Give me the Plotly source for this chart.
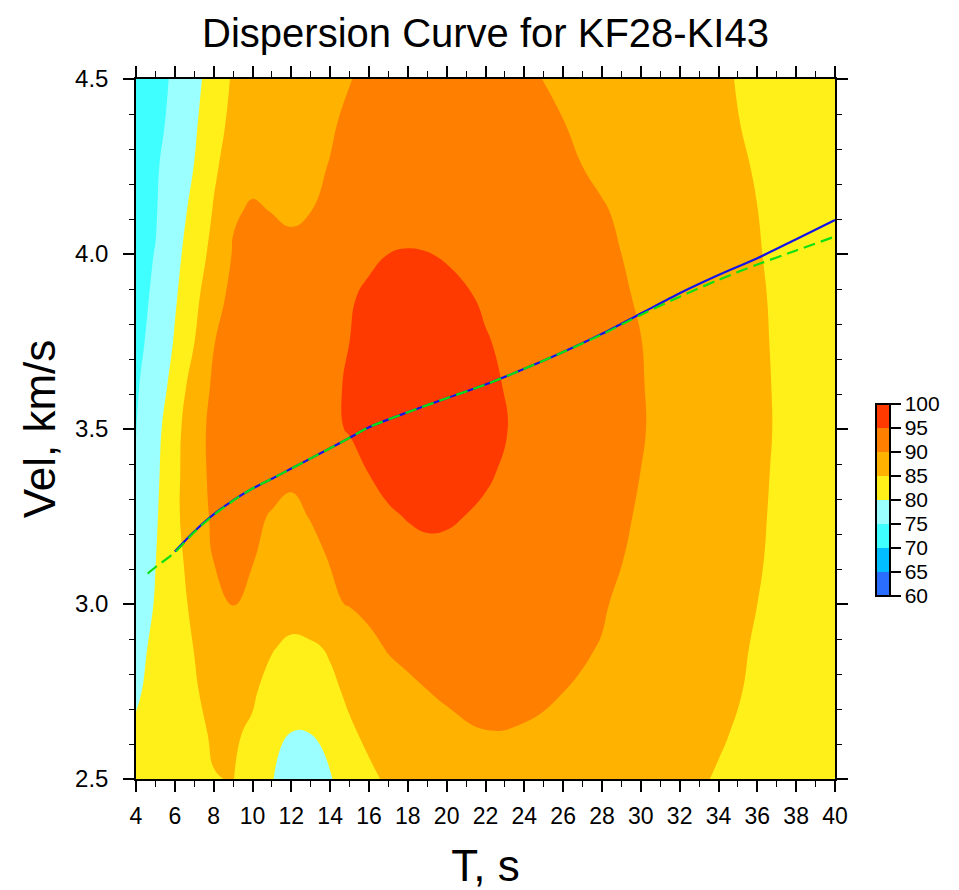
import plotly.graph_objects as go

# ---- data ----
periods = [4, 5, 6, 7, 8, 9, 10, 11, 12, 13, 14, 15, 16, 17, 18, 19, 20,
           22, 24, 26, 28, 30, 32, 34, 36, 38, 40]
velocities = [2.5, 2.625, 2.75, 2.875, 3.0, 3.125, 3.25, 3.375, 3.5,
              3.625, 3.75, 3.875, 4.0, 4.125, 4.25, 4.375, 4.5]

amp_2500 = [81.5, 82.5, 83.3, 84.1, 84.9, 85.1, 83.0, 80.2, 77.8, 77.6, 79.7, 82.3, 84.2, 85.6, 86.6, 87.4, 88.0, 88.6, 88.6, 88.2, 87.5, 86.6, 85.7, 84.8, 83.8, 83.0, 82.3]
amp_2625 = [80.6, 82.0, 83.2, 84.3, 85.3, 85.5, 84.3, 81.8, 79.8, 79.9, 82.3, 84.3, 85.8, 87.0, 87.9, 88.6, 89.2, 89.9, 89.8, 89.3, 88.6, 87.6, 86.4, 85.25, 84.3, 83.4, 82.6]
amp_2750 = [79.5, 81.2, 83.0, 84.5, 86.6, 87.0, 85.6, 83.3, 81.6, 82.0, 84.0, 85.8, 87.2, 88.3, 89.2, 89.95, 90.4, 90.7, 90.5, 90.02, 89.3, 88.3, 87.1, 85.8, 84.5, 83.6, 82.8]
amp_2875 = [78.6, 81.0, 83.0, 85.1, 87.5, 89.4, 88.0, 85.3, 84.0, 84.3, 85.5, 87.2, 89.0, 90.3, 91.0, 91.5, 91.8, 91.6, 91.0, 90.5, 89.9, 88.9, 87.7, 86.1, 84.7, 83.7, 82.9]
amp_3000 = [77.3, 80.3, 83.1, 86.0, 88.8, 90.1, 89.0, 87.8, 87.3, 88.3, 89.5, 90.2, 91.0, 91.7, 92.3, 92.7, 92.9, 92.6, 91.8, 91.0, 90.2, 89.1, 87.8, 86.3, 85.0, 83.9, 83.0]
amp_3125 = [76.5, 79.9, 83.5, 86.9, 90.05, 90.3, 90.1, 89.3, 88.9, 89.3, 90.1, 91.2, 92.2, 93.0, 93.6, 94.0, 94.1, 93.4, 92.4, 91.5, 90.6, 89.5, 88.0, 86.5, 85.2, 84.0, 83.1]
amp_3250 = [76.0, 79.4, 84.0, 87.8, 90.7, 90.5, 90.4, 89.85, 89.5, 90.1, 91.3, 92.5, 93.6, 94.5, 95.2, 95.6, 95.4, 94.5, 93.1, 92.0, 90.9, 89.75, 88.4, 86.7, 85.3, 84.1, 83.2]
amp_3375 = [75.4, 79.0, 83.6, 88.6, 90.8, 90.8, 91.0, 90.8, 90.4, 91.2, 92.5, 93.9, 95.05, 96.2, 96.9, 97.0, 96.7, 95.4, 93.9, 92.6, 91.3, 89.98, 88.5, 86.8, 85.4, 84.15, 83.2]
amp_3500 = [74.9, 78.5, 83.2, 88.6, 90.9, 91.05, 91.7, 92.4, 93.1, 93.8, 94.5, 95.2, 96.3, 97.2, 97.7, 97.8, 97.4, 95.8, 94.4, 92.9, 91.6, 90.2, 88.7, 86.9, 85.5, 84.2, 83.2]
amp_3625 = [74.5, 77.4, 81.65, 87.3, 90.6, 91.0, 91.7, 92.4, 93.1, 93.8, 94.5, 95.3, 96.5, 97.4, 97.8, 97.8, 97.4, 95.6, 94.2, 92.8, 91.5, 90.15, 88.6, 86.8, 85.45, 84.2, 83.2]
amp_3750 = [74.2, 76.0, 80.4, 84.9, 89.9, 90.9, 91.6, 92.2, 92.9, 93.6, 94.3, 95.0, 96.2, 97.0, 97.4, 97.3, 96.8, 95.2, 93.9, 92.6, 91.3, 90.05, 88.5, 86.7, 85.4, 84.1, 83.1]
amp_3875 = [73.8, 75.6, 79.5, 83.6, 88.6, 91.0, 91.3, 92.0, 92.6, 93.3, 94.0, 94.7, 95.6, 96.4, 96.8, 96.6, 96.0, 94.6, 93.4, 92.2, 91.0, 89.7, 88.3, 86.5, 85.3, 84.1, 83.0]
amp_4000 = [74.0, 75.1, 78.7, 82.4, 86.5, 90.3, 90.9, 91.3, 91.3, 92.5, 93.2, 93.8, 94.4, 95.0, 95.3, 95.1, 94.7, 93.6, 92.6, 91.6, 90.6, 89.4, 88.0, 86.3, 85.15, 84.0, 82.9]
amp_4125 = [73.5, 74.7, 77.8, 81.3, 85.3, 89.6, 90.35, 89.9, 89.2, 89.95, 90.6, 91.3, 91.9, 92.5, 93.0, 93.2, 93.2, 92.8, 92.0, 91.1, 90.2, 89.1, 87.9, 86.1, 85.02, 83.8, 82.7]
amp_4250 = [73.0, 74.5, 77.0, 80.1, 84.25, 87.2, 89.0, 88.8, 88.6, 89.5, 90.1, 90.9, 91.5, 92.0, 92.4, 92.6, 92.7, 92.4, 91.6, 90.5, 89.5, 88.5, 87.3, 85.9, 84.8, 83.6, 82.5]
amp_4375 = [72.5, 73.8, 76.25, 79.2, 83.6, 85.9, 87.0, 87.6, 88.2, 88.9, 89.7, 90.5, 91.1, 91.6, 92.0, 92.3, 92.4, 92.1, 91.2, 90.05, 89.0, 88.0, 87.0, 85.5, 84.6, 83.4, 82.3]
amp_4500 = [72.0, 73.7, 75.6, 78.4, 82.4, 85.5, 86.0, 86.8, 87.6, 88.4, 89.1, 89.9, 90.6, 91.2, 91.6, 91.9, 92.0, 91.6, 90.5, 89.4, 88.5, 87.5, 86.4, 85.4, 84.4, 83.2, 82.1]

amplitude = [amp_2500, amp_2625, amp_2750, amp_2875, amp_3000, amp_3125,
             amp_3250, amp_3375, amp_3500, amp_3625, amp_3750, amp_3875,
             amp_4000, amp_4125, amp_4250, amp_4375, amp_4500]

# measured dispersion curve (solid blue)
curve_T = [6, 7, 8, 9, 10, 11, 12, 13, 14, 15, 16, 18, 20, 22, 24, 26,
           28, 30, 32, 34, 36, 38, 40]
curve_V = [3.15, 3.207, 3.256, 3.296, 3.33, 3.358, 3.387, 3.416, 3.445,
           3.475, 3.505, 3.548, 3.588, 3.627, 3.672, 3.72, 3.772, 3.83,
           3.888, 3.94, 3.988, 4.042, 4.097]
# reference curve (dashed green)
ref_T = [4.6, 5, 6, 7, 8, 9, 10, 11, 12, 13, 14, 15, 16, 18, 20, 22, 24,
         26, 28, 30, 32, 34, 36, 38, 40]
ref_V = [3.087, 3.105, 3.148, 3.205, 3.254, 3.295, 3.33, 3.358, 3.387,
         3.416, 3.445, 3.475, 3.505, 3.548, 3.588, 3.627, 3.672, 3.72,
         3.77, 3.826, 3.878, 3.926, 3.97, 4.01, 4.05]

levels = [60, 65, 70, 75, 80, 85, 90, 95, 100]
band_colors = ["#2a6eff", "#00beff", "#40ffff", "#9cffff",
               "#fff01a", "#ffb200", "#ff8000", "#ff3a00"]

# stepped colour scale (band edges at the contour levels)
def pos(v):
    return min(1.0, max(0.0, (v - 57.5) / 45.0))

cscale = [[0.0, band_colors[0]]]
for k, c in enumerate(band_colors):
    cscale.append([pos(levels[k]), c])
    cscale.append([pos(levels[k + 1]), c])
cscale.append([1.0, band_colors[-1]])
cscale = sorted(cscale, key=lambda p: p[0])

FONT = "Liberation Sans, Arial, Helvetica, sans-serif"

fig = go.Figure()
fig.add_trace(go.Contour(
    x=periods, y=velocities, z=amplitude,
    zmin=60, zmax=100, autocontour=False,
    contours=dict(start=60, end=100, size=5, coloring="fill", showlines=False),
    line=dict(width=0, smoothing=1.3),
    colorscale=cscale,
    colorbar=dict(
        x=(876 - 136) / 699, xanchor="left", xpad=0,
        y=(779 - 500) / 700, yanchor="middle", ypad=0,
        len=192 / 700, lenmode="fraction", thickness=14,
        outlinewidth=2, outlinecolor="black",
        tickvals=levels, ticks="outside", ticklen=10, tickwidth=1.5,
        tickcolor="black", tickfont=dict(family=FONT, size=21, color="black"),
    ),
    hoverinfo="skip",
))
fig.add_trace(go.Scatter(x=curve_T, y=curve_V, mode="lines",
                         line=dict(color="#1414e6", width=2.2, shape="spline", smoothing=0.8),
                         showlegend=False, hoverinfo="skip"))
fig.add_trace(go.Scatter(x=ref_T, y=ref_V, mode="lines",
                         line=dict(color="#10e010", width=2.2, dash="12px,6px",
                                   shape="spline", smoothing=0.8),
                         showlegend=False, hoverinfo="skip"))

axis_common = dict(
    showgrid=False, zeroline=False, showline=True, linecolor="black",
    linewidth=1.5, mirror="ticks", ticks="outside", tickcolor="black",
    tickwidth=1.5, automargin=False,
)
fig.update_xaxes(
    range=[4, 40], tick0=4, dtick=2, ticklen=11, ticklabelstandoff=5,
    tickfont=dict(family=FONT, size=23, color="black"),
    minor=dict(dtick=1, ticklen=6, ticks="outside", tickcolor="black", tickwidth=1.2),
    title=dict(text="T, s", font=dict(family=FONT, size=44, color="black"), standoff=24),
    **axis_common,
)
fig.update_yaxes(
    range=[2.5, 4.5], tick0=2.5, dtick=0.5, tickformat=".1f", ticklen=11,
    ticklabelstandoff=10,
    tickfont=dict(family=FONT, size=24, color="black"),
    minor=dict(dtick=0.1, ticklen=5, ticks="outside", tickcolor="black", tickwidth=1.2),
    title=dict(text="Vel, km/s", font=dict(family=FONT, size=44, color="black"), standoff=6),
    **axis_common,
)
fig.update_layout(
    width=959, height=890,
    margin=dict(l=136, r=124, t=79, b=111),
    paper_bgcolor="white", plot_bgcolor="white",
    showlegend=False,
    title=dict(text="Dispersion Curve for KF28-KI43",
               font=dict(family=FONT, size=40, color="black"),
               x=(136 + 835) / 2 / 959, xanchor="center",
               y=1 - 33 / 890, yanchor="middle", yref="container"),
)
fig.write_html("out.html")
